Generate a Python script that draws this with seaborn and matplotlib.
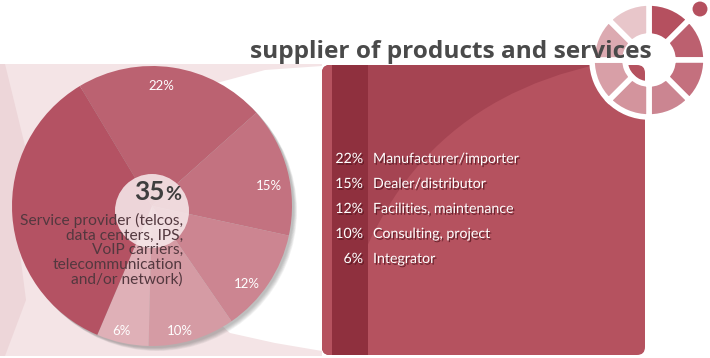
import matplotlib
matplotlib.use("Agg")
import numpy as np
import matplotlib.pyplot as plt
import matplotlib.patheffects as pe
from matplotlib.patches import Circle, Polygon, FancyBboxPatch, PathPatch
from matplotlib.path import Path
import seaborn as sns

# ---- data ----
categories = ["Manufacturer/importer", "Dealer/distributor", "Facilities, maintenance",
              "Consulting, project", "Integrator", "Service provider"]
values = [22, 15, 12, 10, 6, 35]
pie_labels = ["22%", "15%", "12%", "10%", "6%", ""]
center_value = "35"
center_text = "Service provider (telcos,\ndata centers, IPS,\nVoIP carriers,\ntelecommunication\nand/or network)"
list_pcts = ["22%", "15%", "12%", "10%", "6%"]
list_labels = ["Manufacturer/importer", "Dealer/distributor", "Facilities, maintenance",
               "Consulting, project", "Integrator"]
title = "supplier of products and services"
icon_values = [1, 1, 1, 1, 1, 1, 1, 1]

# label placement tweaks (style only)
label_shift_deg = [4, -5, -5.5, -4, -1.5, 0]
label_dist = [0.86, 0.85, 0.88, 0.915, 0.92, 0.9]

pie_colors = ["#bb6271", "#c37280", "#cc8591", "#d59ba4", "#dfb0b7", "#b45263"]
icon_colors = ["#b5505f", "#bc606f", "#c4707e", "#cb8591", "#d3949d",
               "#d89fa7", "#dcaab1", "#e8c6ca"]

sns.set_theme(style="white")
plt.rcParams['font.family'] = ['Lato', 'DejaVu Sans']

W, H = 710, 358
fig = plt.figure(figsize=(7.1, 3.58), dpi=100)
ax = fig.add_axes([0, 0, 1, 1])


def Y(p):
    return H - p


# background light pink funnel
ax.add_patch(Polygon([(0, Y(64)), (322, Y(64)), (322, Y(356)), (0, Y(356))],
                     closed=True, fc="#f4e4e6", ec="none", zorder=0))
ax.add_patch(Polygon([(0, Y(64)), (5, Y(64)), (26, Y(150)), (14, Y(207)), (26, Y(300)),
                      (5, Y(356)), (0, Y(356))], closed=True, fc="#edd6d9", ec="none", zorder=0.5))
# white funnel between pie and box
verts = [(150, Y(150)), (213, Y(84)), (265, Y(70)), (322, Y(66)), (322, Y(351)),
         (275, Y(343)), (230, Y(333)), (150, Y(260)), (150, Y(150))]
ax.add_patch(Polygon(verts, closed=True, fc="white", ec="none", zorder=0.6))

# pie shadow (bottom-right only)
cx, cy, R = 152, Y(206), 140
for i in range(6):
    ax.add_patch(Circle((cx + 2 + i * 0.6, cy - 2 - i * 0.6), R, fc="#505050", ec="none",
                        alpha=0.07, zorder=1))

wedges, texts = ax.pie(values, colors=pie_colors, startangle=121, counterclock=False,
                       center=(cx, cy), radius=R, labels=pie_labels, labeldistance=0.86,
                       textprops=dict(color="white", fontsize=9.5),
                       wedgeprops=dict(linewidth=0), frame=True)
for w, t, sh, d in zip(wedges, texts, label_shift_deg, label_dist):
    w.set_zorder(2)
    t.set_zorder(3)
    mid = np.deg2rad((w.theta1 + w.theta2) / 2 + sh)
    t.set_position((cx + d * R * np.cos(mid), cy + d * R * np.sin(mid)))
    t.set_ha("center")
    t.set_va("center")

# center circle and text
ax.add_patch(Circle((152, Y(211)), 37, fc="#f6e8ea", ec="none", alpha=0.88, zorder=3))
ax.text(165, Y(200), center_value, ha="right", va="baseline", fontsize=19,
        fontweight="bold", color="#3e3e3e", zorder=4)
ax.text(165, Y(200), "%", ha="left", va="baseline", fontsize=14,
        fontweight="bold", color="#3e3e3e", zorder=4)
ax.text(183, Y(250), center_text, ha="right", va="center", fontsize=11.2,
        color="#53383f", linespacing=1.05, zorder=4)

# right box
box = FancyBboxPatch((322, Y(355)), 323, 290, boxstyle="round,pad=0,rounding_size=8",
                     fc="#b5525f", ec="none", zorder=2)
ax.add_patch(box)
p0, p1, p2 = (333, Y(356)), (380, Y(110)), (600, Y(64))
curve = Path([p0, p1, p2, (600, Y(60)), (322, Y(60)), (322, Y(356)), p0],
             [Path.MOVETO, Path.CURVE3, Path.CURVE3, Path.LINETO, Path.LINETO,
              Path.LINETO, Path.CLOSEPOLY])
dark = PathPatch(curve, fc="#a54452", ec="none", zorder=2.1)
ax.add_patch(dark)
dark.set_clip_path(box)
strip = Polygon([(332, Y(65)), (368, Y(65)), (368, Y(355)), (332, Y(355))], closed=True,
                fc="#8f303e", ec="none", zorder=2.2)
ax.add_patch(strip)
strip.set_clip_path(box)
edge = Polygon([(322, Y(65)), (332, Y(65)), (332, Y(355)), (322, Y(355))], closed=True,
               fc="#b5525f", ec="none", zorder=2.25)
ax.add_patch(edge)
edge.set_clip_path(box)

shadow = [pe.SimplePatchShadow(offset=(1, -1.2), shadow_rgbFace="#4a1019", alpha=0.7), pe.Normal()]
ys = [159, 184, 209, 234, 259]
for yy, pc, lb in zip(ys, list_pcts, list_labels):
    ax.text(363, Y(yy), pc, ha="right", va="center", fontsize=10.2, color="white",
            zorder=5, path_effects=shadow)
    ax.text(373, Y(yy), lb, ha="left", va="center", fontsize=10.2, color="white",
            zorder=5, path_effects=shadow)

# icon ring
iw, _ = ax.pie(icon_values, colors=icon_colors, startangle=90, counterclock=False,
               center=(649, Y(60)), radius=57,
               wedgeprops=dict(width=33, edgecolor="white", linewidth=4), frame=True)
for w in iw:
    w.set_zorder(3)
ax.add_patch(Circle((700, Y(9)), 8.5, fc="#b5505f", ec="white", lw=1.5, zorder=3.5))

ax.text(250, Y(58), title, ha="left", va="baseline", fontsize=17.6, fontweight="bold",
        color="#4a4a4a", family=["Open Sans", "DejaVu Sans"], zorder=6)

ax.set_xlim(0, W)
ax.set_ylim(0, H)
ax.set_aspect("equal")
ax.axis("off")
fig.savefig("out.png", dpi=100, facecolor="white")
